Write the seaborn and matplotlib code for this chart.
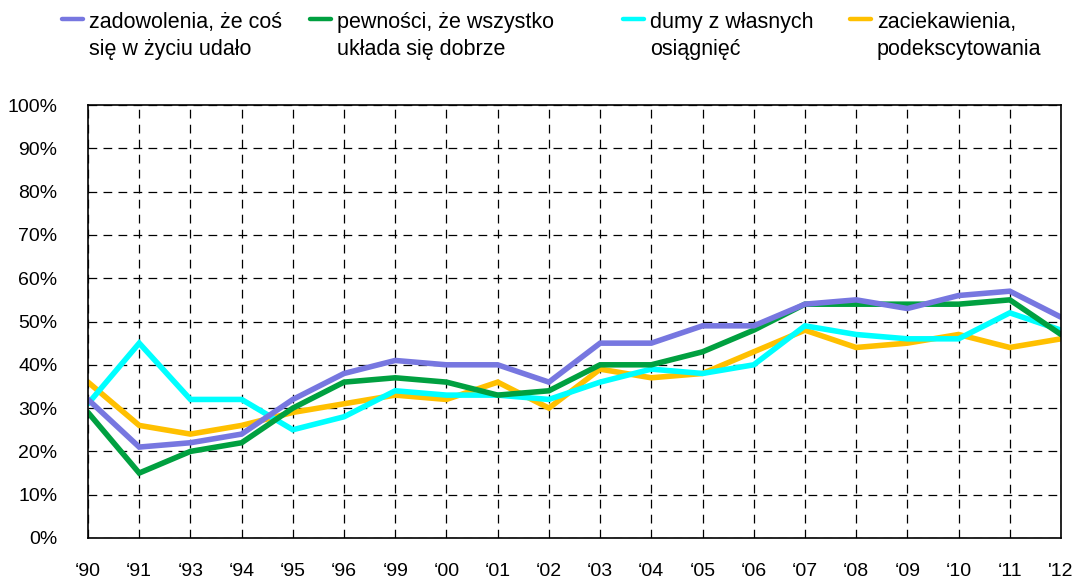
import pandas as pd
import matplotlib.pyplot as plt
import seaborn as sns
from matplotlib.lines import Line2D

# etykiety lat
lata = ["‘90", "‘91", "‘93", "‘94", "‘95", "‘96", "‘99", "‘00", "‘01", "‘02",
        "‘03", "‘04", "‘05", "‘06", "‘07", "‘08", "‘09", "‘10", "‘11", "'12"]

# wartości w procentach
zadowolenie = [32, 21, 22, 24, 32, 38, 41, 40, 40, 36, 45, 45, 49, 49, 54, 55, 53, 56, 57, 51]
pewnosc = [29, 15, 20, 22, 30, 36, 37, 36, 33, 34, 40, 40, 43, 48, 54, 54, 54, 54, 55, 47]
duma = [31, 45, 32, 32, 25, 28, 34, 33, 33, 32, 36, 39, 38, 40, 49, 47, 46, 46, 52, 48]
zaciekawienie = [36, 26, 24, 26, 29, 31, 33, 32, 36, 30, 39, 37, 38, 43, 48, 44, 45, 47, 44, 46]

etykiety = ["zadowolenia, że coś\nsię w życiu udało",
            "pewności, że wszystko\nukłada się dobrze",
            "dumy z własnych\nosiągnięć",
            "zaciekawienia,\npodekscytowania"]
kolory = ["#7777E0", "#00A040", "#00FFFF", "#FFC000"]
serie = [zadowolenie, pewnosc, duma, zaciekawienie]

sns.set_theme(style="white")
plt.rcParams['font.family'] = ['Liberation Sans', 'DejaVu Sans']

W, H = 1077, 580
fig = plt.figure(figsize=(W / 100, H / 100), dpi=100)
ax = fig.add_axes([88 / W, 42 / H, (1061 - 88) / W, (538 - 105) / H])

# rysuje od ostatniej serii, żeby fioletowa była na wierzchu
for i in [3, 2, 1, 0]:
    df = pd.DataFrame({"rok": range(len(lata)), "wartosc": serie[i]})
    sns.lineplot(data=df, x="rok", y="wartosc", color=kolory[i], lw=4.0,
                 ax=ax, legend=False, solid_joinstyle="miter")

ax.set_xlim(0, len(lata) - 1)
ax.set_ylim(0, 100)
ax.set_xticks(range(len(lata)))
ax.set_xticklabels(lata)
ax.set_yticks(range(0, 101, 10))
ax.set_yticklabels([f"{v}%" for v in range(0, 101, 10)])
ax.set_xlabel("")
ax.set_ylabel("")

ax.grid(True, color="black", linestyle=(0, (7, 5)), linewidth=0.9)
ax.set_axisbelow(True)
for s in ax.spines.values():
    s.set_color("black")
    s.set_linewidth(1.2)
ax.tick_params(axis="both", direction="out", length=11, width=0.9, color="black",
               labelsize=14, labelcolor="black")
ax.tick_params(axis="y", pad=11)
ax.tick_params(axis="x", pad=7)

# legenda - kreska przy pierwszej linii tekstu
pozycje = [62, 310, 623, 850]
for i in range(4):
    x0 = pozycje[i] / W
    y0 = 1 - 19 / H
    fig.add_artist(Line2D([x0, x0 + 21 / W], [y0, y0], transform=fig.transFigure,
                          color=kolory[i], lw=3.2, solid_capstyle="round"))
    fig.text(x0 + 27 / W, 1 - 12 / H, etykiety[i], ha="left", va="top",
             fontsize=15.5, linespacing=1.36, color="black")

fig.savefig("out.png", dpi=100)
